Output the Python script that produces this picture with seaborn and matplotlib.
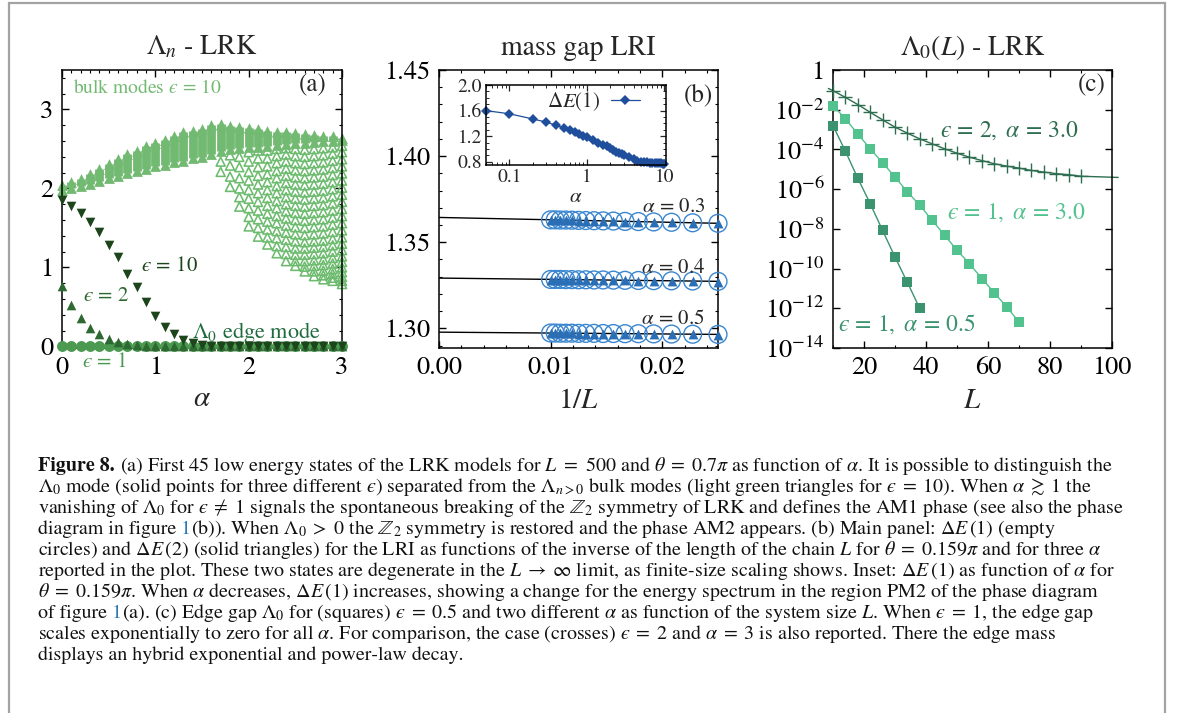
import numpy as np
import pandas as pd
import matplotlib
matplotlib.use("Agg")
import matplotlib.pyplot as plt
import seaborn as sns
from matplotlib.ticker import MultipleLocator, FixedLocator, NullLocator, FormatStrFormatter, LogLocator, NullFormatter
from matplotlib.patches import Rectangle

# ---------------- panel (a): spectrum of LRK vs alpha
alpha_a = np.round(np.linspace(0.0, 3.0, 31), 1)
edge_eps1 = [0.0] * 31
edge_eps2 = [0.76, 0.52, 0.36, 0.23, 0.16, 0.09, 0.05, 0.03, 0.02, 0.01, 0.005,
             0.003, 0.002, 0.001, 0.0, 0.0, 0.0, 0.0, 0.0, 0.0, 0.0, 0.0, 0.0,
             0.0, 0.0, 0.0, 0.0, 0.0, 0.0, 0.0, 0.0]
edge_eps10 = [1.85, 1.78, 1.69, 1.58, 1.45, 1.29, 1.13, 0.92, 0.75, 0.56, 0.38,
              0.24, 0.16, 0.08, 0.04, 0.02, 0.01, 0.0, 0.0, 0.0, 0.0, 0.0, 0.0,
              0.0, 0.0, 0.0, 0.0, 0.0, 0.0, 0.0, 0.0]
# filled bulk band (eps = 10): lowest / highest mode inside the band
band_lo = [1.98, 2.00, 2.03, 2.06, 2.10, 2.13, 2.16, 2.19, 2.22, 2.25, 2.28,
           2.30, 2.33, 2.35, 2.38, 2.40, 2.44, 2.48, 2.50, 2.51, 2.52, 2.53,
           2.54, 2.55, 2.56, 2.57, 2.58, 2.59, 2.60, 2.60, 2.61]
band_hi = [2.04, 2.08, 2.12, 2.18, 2.25, 2.31, 2.37, 2.44, 2.48, 2.54, 2.58,
           2.62, 2.67, 2.71, 2.73, 2.75, 2.80, 2.81, 2.79, 2.78, 2.76, 2.75,
           2.73, 2.72, 2.71, 2.70, 2.69, 2.68, 2.67, 2.66, 2.64]
# bulk modes that leave the band (open triangles)
fan_alpha = [1.7, 1.8, 1.9, 2.0, 2.1, 2.2, 2.3, 2.4, 2.5, 2.6, 2.7, 2.8, 2.9, 3.0]
fan_modes = [
    [2.21, 2.34],
    [2.02, 2.15, 2.29, 2.42],
    [1.77, 1.89, 2.00, 2.13, 2.27, 2.40],
    [1.52, 1.64, 1.75, 1.87, 1.98, 2.10, 2.21, 2.34, 2.46],
    [1.39, 1.50, 1.61, 1.72, 1.83, 1.94, 2.05, 2.16, 2.27, 2.38, 2.48],
    [1.29, 1.38, 1.48, 1.58, 1.68, 1.78, 1.88, 1.98, 2.08, 2.18, 2.28, 2.38, 2.48],
    [1.18, 1.27, 1.37, 1.46, 1.56, 1.65, 1.75, 1.84, 1.94, 2.03, 2.13, 2.22, 2.32,
     2.41, 2.50],
    [1.08, 1.17, 1.26, 1.35, 1.44, 1.53, 1.62, 1.71, 1.80, 1.89, 1.98, 2.07, 2.16,
     2.25, 2.34, 2.43, 2.51],
    [1.02, 1.08, 1.16, 1.24, 1.33, 1.42, 1.51, 1.60, 1.69, 1.78, 1.87, 1.96, 2.05,
     2.14, 2.23, 2.32, 2.41, 2.50],
    [0.95, 1.01, 1.08, 1.16, 1.24, 1.32, 1.41, 1.50, 1.59, 1.68, 1.77, 1.86, 1.95,
     2.04, 2.13, 2.22, 2.31, 2.40, 2.49],
    [0.89, 0.95, 1.02, 1.09, 1.17, 1.25, 1.33, 1.42, 1.51, 1.60, 1.69, 1.78, 1.87,
     1.96, 2.05, 2.14, 2.23, 2.32, 2.41, 2.50],
    [0.85, 0.90, 0.96, 1.03, 1.10, 1.18, 1.26, 1.34, 1.43, 1.52, 1.61, 1.70, 1.79,
     1.88, 1.97, 2.06, 2.15, 2.24, 2.33, 2.42, 2.51],
    [0.83, 0.87, 0.92, 0.98, 1.05, 1.12, 1.20, 1.28, 1.36, 1.45, 1.54, 1.63, 1.72,
     1.81, 1.90, 1.99, 2.08, 2.17, 2.26, 2.35, 2.44, 2.52],
    [0.79, 0.83, 0.88, 0.94, 1.00, 1.07, 1.14, 1.22, 1.30, 1.38, 1.47, 1.56, 1.65,
     1.74, 1.83, 1.92, 2.01, 2.10, 2.19, 2.28, 2.37, 2.46, 2.54],
]

# ---------------- panel (b): mass gap LRI vs 1/L
L_b = [100, 96, 92, 88, 84, 80, 76, 72, 68, 64, 60, 56, 52, 48, 44, 40]
gap1_a03 = [1.3630, 1.3630, 1.3629, 1.3629, 1.3628, 1.3627, 1.3626, 1.3625,
            1.3624, 1.3623, 1.3621, 1.3620, 1.3618, 1.3616, 1.3613, 1.3610]
gap1_a04 = [1.3284, 1.3284, 1.3284, 1.3283, 1.3283, 1.3282, 1.3282, 1.3281,
            1.3281, 1.3280, 1.3279, 1.3278, 1.3277, 1.3276, 1.3275, 1.3273]
gap1_a05 = [1.2973, 1.2973, 1.2972, 1.2972, 1.2972, 1.2971, 1.2971, 1.2971,
            1.2970, 1.2970, 1.2969, 1.2969, 1.2968, 1.2967, 1.2966, 1.2965]
gap2_a03 = [1.3629, 1.3629, 1.3628, 1.3628, 1.3627, 1.3626, 1.3625, 1.3624,
            1.3623, 1.3622, 1.3620, 1.3619, 1.3617, 1.3615, 1.3612, 1.3609]
gap2_a04 = [1.3283, 1.3283, 1.3283, 1.3282, 1.3282, 1.3281, 1.3281, 1.3280,
            1.3280, 1.3279, 1.3278, 1.3277, 1.3276, 1.3275, 1.3274, 1.3272]
gap2_a05 = [1.2972, 1.2972, 1.2971, 1.2971, 1.2971, 1.2970, 1.2970, 1.2970,
            1.2969, 1.2969, 1.2968, 1.2968, 1.2967, 1.2966, 1.2965, 1.2964]
fit_x = [0.0, 0.025]
fit_a03 = [1.3644, 1.3610]
fit_a04 = [1.3292, 1.3273]
fit_a05 = [1.2978, 1.2965]
# inset: Delta E(1) vs alpha
inset_alpha = [0.05, 0.1, 0.2, 0.3, 0.4, 0.5, 0.6, 0.7, 0.8, 0.9, 1.0, 1.2, 1.4,
               1.6, 1.8, 2.0, 2.2, 2.4, 2.6, 2.8, 3.0, 3.5, 4.0, 4.5, 5.0, 5.5,
               6.0, 6.5, 7.0, 7.5, 8.0, 8.5, 9.0, 9.5, 10.0]
inset_gap = [1.60, 1.55, 1.47, 1.42, 1.37, 1.33, 1.30, 1.27, 1.24, 1.21, 1.19,
             1.14, 1.10, 1.07, 1.04, 1.01, 0.98, 0.96, 0.94, 0.92, 0.905, 0.87,
             0.84, 0.82, 0.80, 0.795, 0.79, 0.785, 0.78, 0.778, 0.776, 0.775,
             0.774, 0.773, 0.772]

# ---------------- panel (c): edge gap vs L (log10 values)
L_c_eps2 = [10, 14, 18, 22, 26, 30, 34, 38, 42, 46, 50, 54, 58, 62, 66, 70, 74,
            78, 82, 86, 90]
log_eps2_a30 = [-1.04, -1.38, -1.74, -2.13, -2.51, -2.88, -3.18, -3.47, -3.72,
                -3.97, -4.19, -4.39, -4.56, -4.72, -4.84, -4.94, -5.06, -5.14,
                -5.22, -5.27, -5.35]
fit_L_eps2 = [8.5, 10, 14, 18, 22, 26, 30, 34, 38, 42, 46, 50, 54, 58, 62, 66,
              70, 74, 78, 82, 86, 90, 96, 102]
fit_log_eps2 = [-0.93, -1.04, -1.38, -1.74, -2.13, -2.51, -2.88, -3.18, -3.47,
                -3.72, -3.97, -4.19, -4.39, -4.56, -4.72, -4.84, -4.94, -5.06,
                -5.14, -5.22, -5.27, -5.35, -5.38, -5.41]
L_c_a30 = [10, 14, 18, 22, 26, 30, 34, 38, 42, 46, 50, 54, 58, 62, 66, 70]
log_eps1_a30 = [-1.79, -2.46, -3.22, -3.97, -4.67, -5.39, -6.14, -6.81, -7.57,
                -8.32, -9.08, -9.75, -10.50, -11.21, -11.93, -12.68]
L_c_a05 = [10, 14, 18, 22, 26, 30, 34, 38]
log_eps1_a05 = [-2.80, -4.09, -5.45, -6.73, -8.08, -9.42, -10.70, -12.01]

# ---------------- style
sns.set_theme(style="ticks")
plt.rcParams["font.family"] = ["STIXGeneral", "DejaVu Serif"]
plt.rcParams["mathtext.fontset"] = "stix"
plt.rcParams["axes.linewidth"] = 1.1
plt.rcParams["axes.edgecolor"] = "black"

EPS = "\u03f5"  # lunate epsilon as in the paper

c_bulk = "#72b972"
c_bulk_open = "#6cbb6e"
c_e1 = "#4c9a52"
c_e2 = "#2d6930"
c_e10 = "#1c451c"
c_edge_txt = "#1e6b3e"
c_circ = "#3a86d0"
c_tri = "#2a6fb5"
c_inset = "#1f4e9c"
c_c2 = "#2e6e50"
c_c30 = "#52c28e"
c_c05 = "#3b9370"

TICK = 19

fig = plt.figure(figsize=(11.82, 7.13), dpi=100)
W, H = 1182, 713


def px_axes(l, t, r, b):
    return fig.add_axes([l / W, 1 - b / H, (r - l) / W, (b - t) / H])


def style_ax(ax):
    ax.tick_params(which="both", direction="in", top=True, right=True,
                   labelsize=TICK, colors="black", pad=6)
    ax.tick_params(which="major", length=5, width=1)
    ax.tick_params(which="minor", length=2.5, width=0.8)
    for s in ax.spines.values():
        s.set_visible(True)
        s.set_color("black")


# ================= panel (a)
ax_a = px_axes(62, 70, 342, 348)
style_ax(ax_a)
sns.scatterplot(x=alpha_a, y=edge_eps1, ax=ax_a, marker="o", s=62, color=c_e1,
                edgecolor=c_e1, linewidth=0, clip_on=False, zorder=3)
sns.scatterplot(x=alpha_a, y=edge_eps2, ax=ax_a, marker="^", s=48, color=c_e2,
                edgecolor=c_e2, linewidth=0, clip_on=False, zorder=4)
sns.scatterplot(x=alpha_a, y=edge_eps10, ax=ax_a, marker="v", s=48, color=c_e10,
                edgecolor=c_e10, linewidth=0, clip_on=False, zorder=5)
ax_a.vlines(alpha_a, band_lo, band_hi, color=c_bulk, lw=6.3, zorder=2)
sns.scatterplot(x=np.concatenate([alpha_a, alpha_a]), y=band_lo + band_hi,
                ax=ax_a, marker="^", s=60, color=c_bulk, edgecolor=c_bulk,
                linewidth=0, clip_on=False, zorder=2)
fan_df = pd.DataFrame([(a, e) for a, col in zip(fan_alpha, fan_modes) for e in col],
                      columns=["alpha", "E"])
sns.scatterplot(data=fan_df, x="alpha", y="E", ax=ax_a, marker="^", s=42,
                facecolor="none", edgecolor=c_bulk_open, linewidth=1.15,
                clip_on=False, zorder=1)
ax_a.set_xlim(0, 3)
ax_a.set_ylim(-0.02, 3.5)
ax_a.xaxis.set_major_locator(FixedLocator([0, 1, 2, 3]))
ax_a.xaxis.set_minor_locator(MultipleLocator(0.1))
ax_a.yaxis.set_major_locator(FixedLocator([0, 1, 2, 3]))
ax_a.yaxis.set_minor_locator(MultipleLocator(0.2))
ax_a.set_xlabel(r"$\alpha$", fontsize=TICK + 2, labelpad=5)
ax_a.set_ylabel("")
ax_a.set_title(r"$\Lambda_n$ - LRK", fontsize=TICK + 1, pad=11)
ax_a.text(0.04, 0.935, "bulk modes $" + EPS + r"\, =\, 10$", transform=ax_a.transAxes,
          color=c_bulk, fontsize=14, va="center", ha="left")
ax_a.text(0.946, 0.943, "(a)", transform=ax_a.transAxes, fontsize=18,
          va="center", ha="right")
ax_a.text(0.85, 1.02, "$" + EPS + r"\, =\, 10$", color=c_e10, fontsize=15,
          va="center", ha="left")
ax_a.text(0.23, 0.64, "$" + EPS + r"\, =\, 2$", color=c_e2, fontsize=15,
          va="center", ha="left")
ax_a.text(0.21, -0.2, "$" + EPS + r"\, =\, 1$", color=c_e1, fontsize=15,
          va="center", ha="left")
ax_a.text(1.39, 0.18, r"$\Lambda_0$ edge mode", color=c_edge_txt, fontsize=16,
          va="center", ha="left")

# ================= panel (b)
ax_b = px_axes(439, 70, 718, 348)
style_ax(ax_b)
inv_L = [1.0 / L for L in L_b]
for fit_y in (fit_a03, fit_a04, fit_a05):
    sns.lineplot(x=fit_x, y=fit_y, ax=ax_b, color="black", lw=1.0, zorder=2)
for g1, g2 in ((gap1_a03, gap2_a03), (gap1_a04, gap2_a04), (gap1_a05, gap2_a05)):
    sns.scatterplot(x=inv_L, y=g1, ax=ax_b, marker="o", s=165, facecolor="none",
                    edgecolor=c_circ, linewidth=1.0, clip_on=False, zorder=3)
    sns.scatterplot(x=inv_L, y=g2, ax=ax_b, marker="^", s=50, color=c_tri,
                    edgecolor=c_tri, linewidth=0, clip_on=False, zorder=4)
ax_b.set_xlim(0, 0.025)
ax_b.set_ylim(1.2886, 1.45)
ax_b.xaxis.set_major_locator(FixedLocator([0.0, 0.01, 0.02]))
ax_b.xaxis.set_minor_locator(MultipleLocator(0.002))
ax_b.xaxis.set_major_formatter(FormatStrFormatter("%.2f"))
ax_b.yaxis.set_major_locator(FixedLocator([1.30, 1.35, 1.40, 1.45]))
ax_b.yaxis.set_minor_locator(MultipleLocator(0.01))
ax_b.yaxis.set_major_formatter(FormatStrFormatter("%.2f"))
ax_b.set_xlabel(r"$1/L$", fontsize=TICK + 2, labelpad=6)
ax_b.set_ylabel("")
ax_b.set_title("mass gap LRI", fontsize=TICK + 1, pad=11)
ax_b.text(0.982, 0.91, "(b)", transform=ax_b.transAxes, fontsize=18,
          va="center", ha="right")
for ytxt, lab in ((1.3704, "0.3"), (1.3352, "0.4"), (1.3052, "0.5")):
    ax_b.text(0.021, ytxt, r"$\alpha\, =\, $" + lab, fontsize=15, ha="center",
              va="center")

# inset
ax_in = px_axes(486, 85, 666, 165)
sns.lineplot(x=inset_alpha, y=inset_gap, ax=ax_in, color=c_inset, lw=0.9,
             marker="D", markersize=5.5, markeredgewidth=0, label=r"$\Delta E(1)$",
             clip_on=False)
ax_in.set_xscale("log")
ax_in.set_xlim(0.05, 10.5)
ax_in.set_ylim(0.75, 2.0)
ax_in.tick_params(which="both", direction="in", top=True, right=True,
                  labelsize=14, pad=3)
ax_in.tick_params(which="major", length=4, width=0.9)
ax_in.tick_params(which="minor", length=2, width=0.7)
ax_in.xaxis.set_major_locator(FixedLocator([0.1, 1, 10]))
ax_in.xaxis.set_major_formatter(matplotlib.ticker.FixedFormatter(["0.1", "1", "10"]))
ax_in.xaxis.set_minor_locator(LogLocator(base=10, subs=np.arange(2, 10)))
ax_in.xaxis.set_minor_formatter(NullFormatter())
ax_in.yaxis.set_major_locator(FixedLocator([0.8, 1.2, 1.6, 2.0]))
ax_in.yaxis.set_major_formatter(FormatStrFormatter("%.1f"))
ax_in.yaxis.set_minor_locator(MultipleLocator(0.1))
ax_in.set_xlabel(r"$\alpha$", fontsize=15, labelpad=1)
ax_in.set_ylabel("")
for s in ax_in.spines.values():
    s.set_visible(True)
    s.set_color("black")
ax_in.legend(loc="upper right", bbox_to_anchor=(0.90, 1.04), frameon=False,
             markerfirst=False, fontsize=15, handlelength=1.4, handletextpad=0.5,
             borderaxespad=0)

# ================= panel (c)
ax_c = px_axes(833, 70, 1112, 348)
style_ax(ax_c)
sns.lineplot(x=fit_L_eps2, y=10.0 ** np.array(fit_log_eps2), ax=ax_c, color=c_c2,
             lw=1.0, clip_on=False, zorder=2)
sns.scatterplot(x=L_c_eps2, y=10.0 ** np.array(log_eps2_a30), ax=ax_c, marker="+",
                s=95, color=c_c2, linewidth=1.0, clip_on=False, zorder=3)
sns.lineplot(x=L_c_a30, y=10.0 ** np.array(log_eps1_a30), ax=ax_c, color=c_c30,
             lw=1.0, marker="s", markersize=7.5, markeredgewidth=0,
             clip_on=False, zorder=3)
sns.lineplot(x=L_c_a05, y=10.0 ** np.array(log_eps1_a05), ax=ax_c, color=c_c05,
             lw=1.0, marker="s", markersize=7.5, markeredgewidth=0,
             clip_on=False, zorder=3)
ax_c.set_yscale("log")
ax_c.set_xlim(10, 100)
ax_c.set_ylim(1e-14, 1)
ax_c.xaxis.set_major_locator(FixedLocator([20, 40, 60, 80, 100]))
ax_c.xaxis.set_minor_locator(MultipleLocator(10))
yt = [10.0 ** k for k in range(-14, 1, 2)]
ax_c.yaxis.set_major_locator(FixedLocator(yt))
ax_c.yaxis.set_major_formatter(matplotlib.ticker.FixedFormatter(
    ["$10^{-%d}$" % (-k) for k in range(-14, 0, 2)] + ["1"]))
ax_c.yaxis.set_minor_locator(NullLocator())
ax_c.set_xlabel(r"$L$", fontsize=TICK + 2, labelpad=6)
ax_c.set_ylabel("")
ax_c.set_title(r"$\Lambda_0(L)$ - LRK", fontsize=TICK + 1, pad=11)
ax_c.text(0.978, 0.943, "(c)", transform=ax_c.transAxes, fontsize=18,
          va="center", ha="right")
ax_c.text(44.5, 10 ** -3.06, "$" + EPS + r"\, =\, 2,\ \alpha\, =\, 3.0$", color=c_c2,
          fontsize=17, va="center", ha="left")
ax_c.text(46.8, 10 ** -7.17, "$" + EPS + r"\, =\, 1,\ \alpha\, =\, 3.0$", color=c_c30,
          fontsize=17, va="center", ha="left")
ax_c.text(11.6, 10 ** -12.8, "$" + EPS + r"\, =\, 1,\ \alpha\, =\, 0.5$", color=c_c05,
          fontsize=17, va="center", ha="left")

# ================= frame and caption
fig.add_artist(Rectangle((9 / W, -0.02), (1165 - 9) / W, 1.02 - 3 / H,
                         transform=fig.transFigure, fill=False,
                         edgecolor="#a3a3a3", lw=1.6))

BLUE = "#2a7ab8"
e = EPS
caption = [
    [(r"Figure 8.", {"weight": "bold"}),
     (r"(a) First 45 low energy states of the LRK models for $L\ =\ 500$ and "
      r"$\theta = 0.7\pi$ as function of $\alpha$. It is possible to distinguish the", {})],
    [(r"$\Lambda_0$ mode (solid points for three different $" + e + r"$) separated from "
      r"the $\Lambda_{n>0}$ bulk modes (light green triangles for $" + e + r" = 10$). "
      r"When $\alpha \gtrsim 1$ the", {})],
    [(r"vanishing of $\Lambda_0$ for $" + e + r" \neq 1$ signals the spontaneous breaking "
      r"of the $\mathbb{Z}_2$ symmetry of LRK and defines the AM1 phase (see also the phase", {})],
    [(r"diagram in figure", {}), ("1", {"color": BLUE, "gap": 0}),
     (r"(b)). When $\Lambda_0 > 0$ the $\mathbb{Z}_2$ symmetry is restored and the "
      r"phase AM2 appears. (b) Main panel: $\Delta E\,(1)$ (empty", {})],
    [(r"circles) and $\Delta E\,(2)$ (solid triangles) for the LRI as functions of the "
      r"inverse of the length of the chain $L$ for $\theta = 0.159\pi$ and for three $\alpha$", {})],
    [(r"reported in the plot. These two states are degenerate in the $L \rightarrow \infty$ "
      r"limit, as finite-size scaling shows. Inset: $\Delta E\,(1)$ as function of $\alpha$ for", {})],
    [(r"$\theta = 0.159\pi$. When $\alpha$ decreases, $\Delta E\,(1)$ increases, showing a "
      r"change for the energy spectrum in the region PM2 of the phase diagram", {})],
    [(r"of figure", {}), ("1", {"color": BLUE, "gap": 0}),
     (r"(a). (c) Edge gap $\Lambda_0$ for (squares) $" + e + r" = 0.5$ and two different "
      r"$\alpha$ as function of the system size $L$. When $" + e + r" = 1$, the edge gap", {})],
    [(r"scales exponentially to zero for all $\alpha$. For comparison, the case (crosses) "
      r"$" + e + r" = 2$ and $\alpha = 3$ is also reported. There the edge mass", {})],
    [(r"displays an hybrid exponential and power-law decay.", {})],
]


def widen(s):
    # give relations inside math the same breathing room as the printed caption
    for rel in (" = ", r" \neq ", " > ", r" \rightarrow ", r" \gtrsim "):
        s = s.replace(rel, r"\;" + rel.strip() + r"\;")
    return s


renderer = fig.canvas.get_renderer()
CAP_SIZE = 14.4
SPACE_PX = CAP_SIZE * 0.25 * 100 / 72
x0_px, base0_px, step_px = 38, 471, 21
for i, line in enumerate(caption):
    x_px = x0_px
    y = 1 - (base0_px + i * step_px) / H
    for j, (txt, kw) in enumerate(line):
        kw = dict(kw)
        kw.pop("gap", None)
        t = fig.text(x_px / W, y, widen(txt), fontsize=CAP_SIZE, va="baseline",
                     ha="left", color=kw.pop("color", "#111111"), **kw)
        x_px += t.get_window_extent(renderer).width
        if j + 1 < len(line):
            # a word space between pieces, none before a piece glued on ("1(b)")
            this_glued = line[j][1].get("gap", None) == 0
            if not this_glued:
                x_px += SPACE_PX

fig.savefig("out.png", dpi=100, facecolor="white")
